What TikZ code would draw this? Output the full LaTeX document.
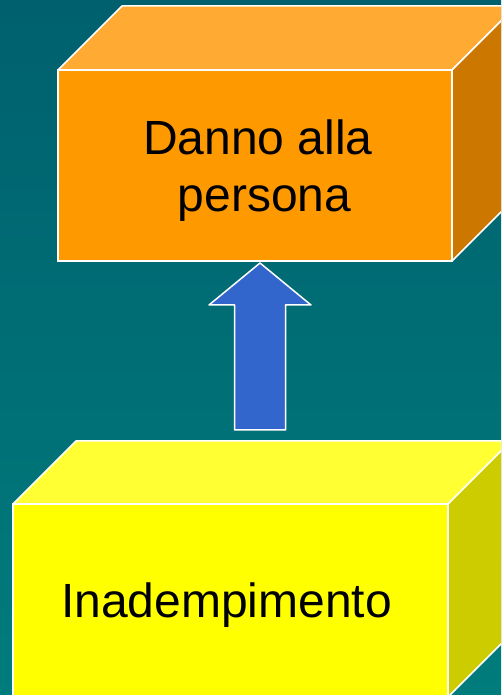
\documentclass[tikz,border=0pt]{standalone}
\usepackage{fontspec}
\setmainfont{Liberation Sans}
\usetikzlibrary{calc}

\definecolor{tealtop}{RGB}{0,96,110}
\definecolor{tealbot}{RGB}{0,124,124}
\definecolor{orfront}{HTML}{FF9900}
\definecolor{ortop}{HTML}{FFAA33}
\definecolor{orside}{HTML}{CC7700}
\definecolor{yefront}{HTML}{FFFF00}
\definecolor{yetop}{HTML}{FFFF33}
\definecolor{yeside}{HTML}{CCCC00}
\definecolor{arrowblue}{HTML}{3366CC}

\begin{document}
\begin{tikzpicture}[x=1pt,y=1pt,
        face/.style={draw=white,line width=1.5pt,outer sep=0pt,inner sep=0pt,
            minimum height=191pt,text depth=0pt,align=center,
            font=\fontsize{48}{57}\selectfont},
        edge/.style={draw=white,line width=1.5pt,line join=round}]
            \useasboundingbox (0,0) rectangle (501,695);
            \clip (0,0) rectangle (501,695);
            \shade[top color=tealtop,bottom color=tealbot] (0,0) rectangle (501,695);

            % upper box
            \node[face,fill=orfront,minimum width=394pt] (danno) at (255,529.5) {\hspace*{6pt}Danno alla\\\hspace*{19pt}persona};
            \draw[edge,fill=ortop] (danno.north west) -- ++(64,64) -- ($(danno.north east)+(64,64)$) -- (danno.north east) -- cycle;
            \draw[edge,fill=orside] (danno.north east) -- ++(64,64) -- ($(danno.south east)+(64,64)$) -- (danno.south east) -- cycle;

            % lower box
            \node[face,fill=yefront,minimum width=435pt,minimum height=193pt] (inad) at (230.5,94.5) {Inadempimento\hspace*{8pt}};
            \draw[edge,fill=yetop] (inad.north west) -- ++(63,63) -- ($(inad.north east)+(63,63)$) -- (inad.north east) -- cycle;
            \draw[edge,fill=yeside] (inad.north east) -- ++(63,63) -- ($(inad.south east)+(63,63)$) -- (inad.south east) -- cycle;

            % arrow
            \coordinate (tail) at ($(inad.north)+(29.5,74)$);
            \coordinate (tip) at ($(danno.south)+(5,-2)$);
            \draw[edge,fill=arrowblue] ($(tail)+(-25.5,0)$) -- ($(tip)+(-25.5,-42)$) -- ($(tip)+(-51,-42)$)
                -- (tip) -- ($(tip)+(51,-42)$) -- ($(tip)+(25.5,-42)$) -- ($(tail)+(25.5,0)$) -- cycle;
        \end{tikzpicture}
\end{document}
